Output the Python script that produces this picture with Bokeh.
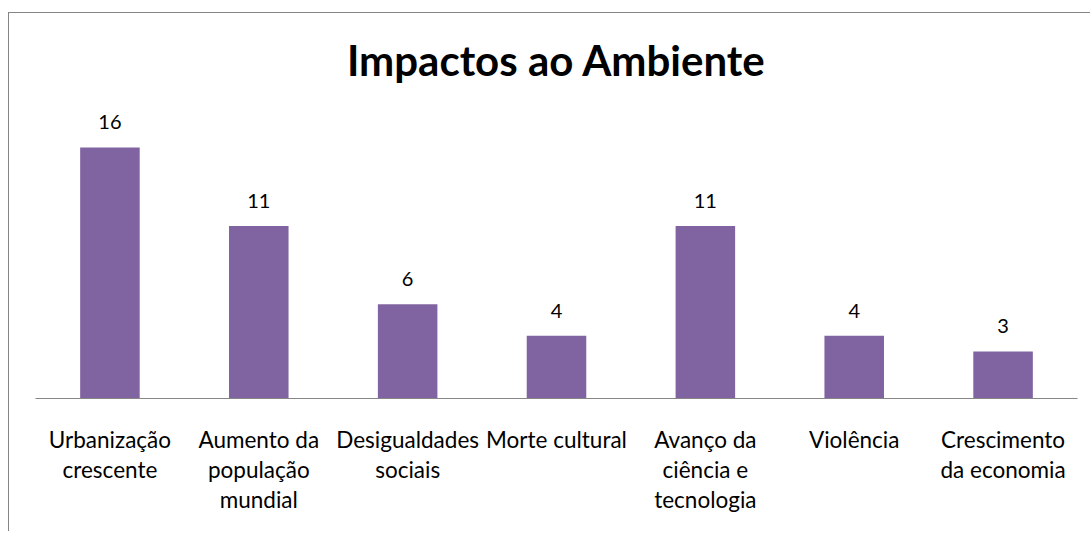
from bokeh.plotting import figure
from bokeh.models import Range1d, FactorRange, ColumnDataSource, LabelSet, Label
from bokeh.core.properties import value
from bokeh.embed import file_html
from bokeh.resources import INLINE

categories = [
    "Urbanização\ncrescente",
    "Aumento da\npopulação\nmundial",
    "Desigualdades\nsociais",
    "Morte cultural",
    "Avanço da\nciência e\ntecnologia",
    "Violência",
    "Crescimento\nda economia",
]
values = [16, 11, 6, 4, 11, 4, 3]
title_text = "Impactos ao Ambiente"

FONT = "Lato"
BAR = "#8064A2"

src = ColumnDataSource(dict(cat=categories, val=values, lab=[str(v) for v in values]))

p = figure(
    width=1082, height=519,
    x_range=FactorRange(*categories, range_padding=0),
    y_range=Range1d(0, 24.54),
    output_backend="svg", toolbar_location=None,
    min_border_left=26, min_border_right=14, min_border_top=0, min_border_bottom=134,
    margin=(12, 0, 0, 8),
    styles={"border-top": "1px solid #868686", "border-left": "1px solid #868686"},
)
p.outline_line_color = None
p.xgrid.visible = False
p.ygrid.visible = False
p.yaxis.visible = False

p.vbar(x="cat", top="val", width=0.4, source=src, fill_color=BAR, line_color=None)

p.add_layout(LabelSet(x="cat", y="val", text="lab", source=src, y_offset=18,
                      text_align="center", text_baseline="alphabetic",
                      text_font=value(FONT), text_font_size=value("20px"),
                      text_color=value("#000000")))

p.add_layout(Label(x=3.5, y=21.55, text=title_text, text_align="center",
                   text_baseline="alphabetic", text_font=FONT, text_font_size="42px",
                   text_font_style="bold", text_color="#000000"))

ax = p.xaxis[0]
ax.axis_line_color = "#868686"
ax.axis_line_width = 1
ax.major_tick_line_color = None
ax.minor_tick_line_color = None
ax.major_tick_out = 0
ax.major_tick_in = 0
ax.major_label_standoff = 27
ax.major_label_text_font = FONT
ax.major_label_text_font_size = "22.5px"
ax.major_label_text_color = "#000000"
ax.major_label_text_line_height = 1.12
ax.major_label_orientation = "horizontal"

open("out.html", "w").write(file_html(p, INLINE))
